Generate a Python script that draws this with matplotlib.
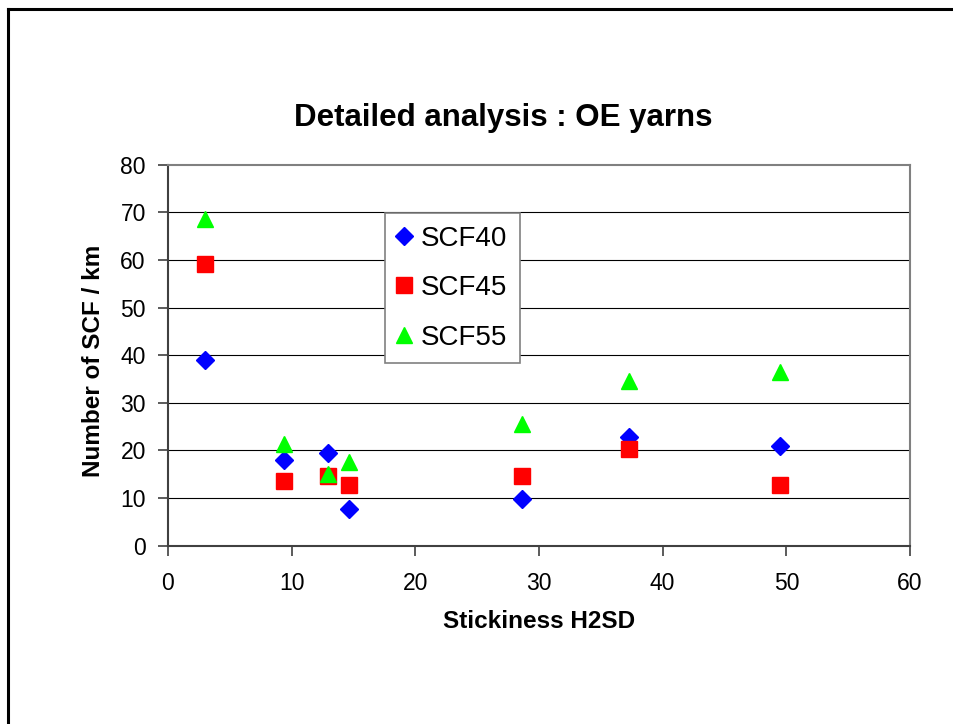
import matplotlib
matplotlib.use("Agg")
import matplotlib.pyplot as plt
from matplotlib.lines import Line2D

plt.rcParams['font.family'] = ['Liberation Sans', 'DejaVu Sans']

# Stickiness (H2SD) of each sample and number of SCF per km
stickiness = [3.0, 9.4, 12.9, 14.6, 28.6, 37.3, 49.5]
scf40 = [39.0, 18.0, 19.5, 7.8, 9.7, 22.9, 20.9]
scf45 = [59.2, 13.6, 14.6, 12.7, 14.6, 20.4, 12.7]
scf55 = [68.5, 21.4, 15.0, 17.5, 25.6, 34.6, 36.5]

x_ticks = [0, 10, 20, 30, 40, 50, 60]
y_ticks = [0, 10, 20, 30, 40, 50, 60, 70, 80]

fig = plt.figure(figsize=(9.54, 7.24), dpi=100)
ax = fig.add_axes([0.1761, 0.2463, 0.7778, 0.5262])

# horizontal gridlines behind the markers
for y in y_ticks[1:-1]:
    ax.axhline(y, color='black', lw=0.8, zorder=1)

ax.plot(stickiness, scf40, 'D', color='#0000FF', ms=9.5, mec='#0000FF', label='SCF40', zorder=3)
ax.plot(stickiness, scf45, 's', color='#FF0000', ms=11, mec='#FF0000', label='SCF45', zorder=3)
ax.plot(stickiness, scf55, '^', color='#00FF00', ms=11, mec='#00FF00', label='SCF55', zorder=3)

ax.set_xlim(0, 60)
ax.set_ylim(0, 80)
ax.set_xticks(x_ticks)
ax.set_yticks(y_ticks)
ax.tick_params(axis='both', direction='out', length=7, width=1.2,
               color='#404040', labelsize=16.5)
ax.tick_params(axis='x', pad=12)
ax.tick_params(axis='y', pad=9)

for side in ['left', 'bottom']:
    ax.spines[side].set_color('#404040')
    ax.spines[side].set_linewidth(1.5)
for side in ['top', 'right']:
    ax.spines[side].set_color('#808080')
    ax.spines[side].set_linewidth(1.5)

leg = ax.legend(loc='upper left', bbox_to_anchor=(385 / 954, 1 - 213 / 724),
                bbox_transform=fig.transFigure, fontsize=20, frameon=True,
                fancybox=False, edgecolor='#808080', framealpha=1,
                handlelength=0.5, handletextpad=0.34, labelspacing=0.85,
                borderpad=0.45, borderaxespad=0)
leg.get_frame().set_linewidth(1.2)
leg.set_zorder(4)

fig.text(503 / 954, 1 - 118 / 724, 'Detailed analysis : OE yarns',
         ha='center', va='center', fontsize=22.5, fontweight='bold')
fig.text(539 / 954, 1 - 622 / 724, 'Stickiness H2SD',
         ha='center', va='center', fontsize=17.5, fontweight='bold')
fig.text(94 / 954, 1 - 361 / 724, 'Number of SCF / km', rotation=90,
         ha='center', va='center', fontsize=17.5, fontweight='bold')

# outer frame (top and left edges)
fig.add_artist(Line2D([8 / 954, 1], [1 - 9 / 724, 1 - 9 / 724],
                      transform=fig.transFigure, color='black', lw=2.2))
fig.add_artist(Line2D([8 / 954, 8 / 954], [0, 1 - 9 / 724],
                      transform=fig.transFigure, color='black', lw=2.2))

fig.savefig('out.png', dpi=100)
